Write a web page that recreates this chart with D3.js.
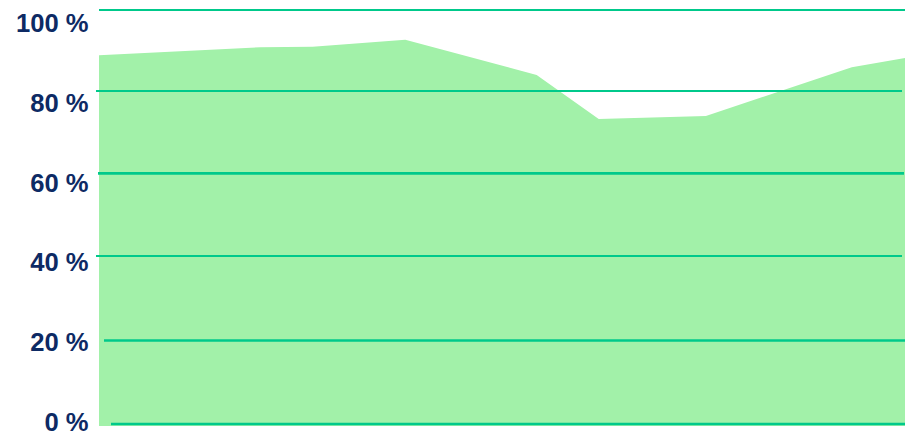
<!DOCTYPE html>
<html>
<head>
<meta charset="utf-8">
<script src="https://cdn.jsdelivr.net/npm/d3@7"></script>
<style>
  html, body { margin: 0; padding: 0; background: #ffffff; }
  svg { display: block; }
</style>
</head>
<body>
<svg id="chart" width="905" height="436"></svg>
<script>
// ---- data ----
const periods = [0, 20, 26.5, 38, 54.3, 62, 75.3, 93.4, 100];
const shares = [89.1, 91.0, 91.1, 92.8, 84.3, 73.7, 74.4, 86.2, 88.4];
const tickValues = [0, 20, 40, 60, 80, 100];
const tickLabels = ["0 %", "20 %", "40 %", "60 %", "80 %", "100 %"];

// ---- style (per gridline, bottom to top) ----
const gridStyle = [
  { x0: 111, x1: 905, w: 2.5, dy: 0 },
  { x0: 104, x1: 905, w: 2.7, dy: -0.7 },
  { x0: 96,  x1: 902, w: 2,   dy: -2.4 },
  { x0: 98,  x1: 904, w: 2.7, dy: -2.3 },
  { x0: 96,  x1: 902, w: 2,   dy: -1.8 },
  { x0: 99,  x1: 905, w: 2,   dy: 0 }
];

const svg = d3.select("#chart");
const x = d3.scaleLinear().domain([0, 100]).range([99, 905]);
const y = d3.scaleLinear().domain([0, 100]).range([424, 10]);
const yLabel = d3.scaleLinear().domain([0, 100]).range([430.6, 32.3]);

const data = periods.map((p, i) => ({ p, v: shares[i] }));

const area = d3.area()
  .x(d => x(d.p))
  .y0(y(0) + 2)
  .y1(d => y(d.v));

svg.append("path")
  .datum(data)
  .attr("d", area)
  .attr("fill", "#a2f1a9");

svg.append("g").selectAll("line")
  .data(tickValues)
  .join("line")
  .attr("x1", (d, i) => gridStyle[i].x0)
  .attr("x2", (d, i) => gridStyle[i].x1)
  .attr("y1", (d, i) => y(d) + gridStyle[i].dy)
  .attr("y2", (d, i) => y(d) + gridStyle[i].dy)
  .attr("stroke", "#00c98b")
  .attr("stroke-width", (d, i) => gridStyle[i].w);

svg.append("g").selectAll("text")
  .data(tickValues)
  .join("text")
  .attr("x", 88.5)
  .attr("y", d => yLabel(d))
  .attr("text-anchor", "end")
  .attr("font-family", "'Liberation Sans', Arial, sans-serif")
  .attr("font-weight", "bold")
  .attr("font-size", "25.6px")
  .attr("fill", "#0d2a64")
  .text((d, i) => tickLabels[i]);
</script>
</body>
</html>
